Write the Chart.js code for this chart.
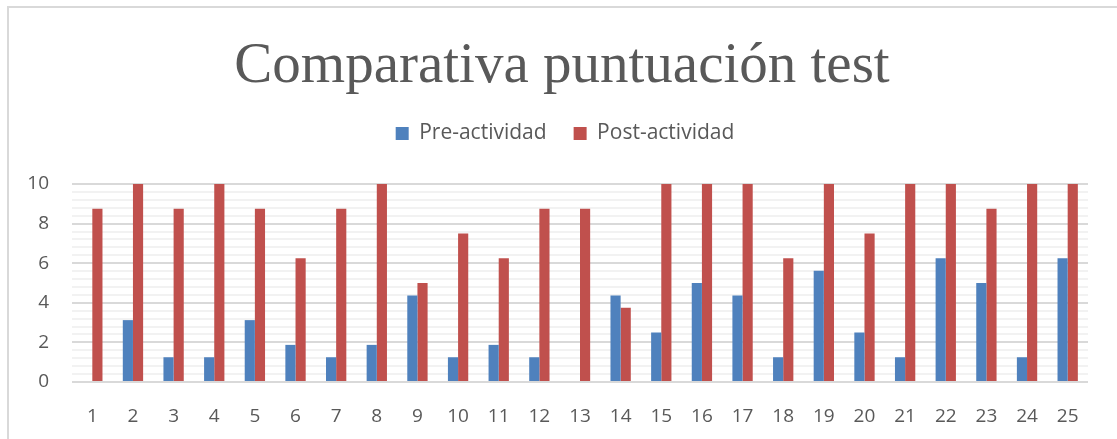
<!DOCTYPE html>
<html>
<head>
<meta charset="utf-8">
<script src="https://cdn.jsdelivr.net/npm/chart.js@4"></script>
<style>
  html, body { margin: 0; padding: 0; background: #fff; }
  #wrap { position: relative; width: 1117px; height: 439px; overflow: hidden; }
  #frame { position: absolute; left: 7px; top: 6px; width: 1200px; height: 500px;
           border-left: 2px solid #D9D9D9; border-top: 2px solid #D9D9D9; pointer-events: none; }
  canvas { position: absolute; left: 0; top: 0; }
</style>
</head>
<body>
<div id="wrap">
  <canvas id="c" width="1117" height="439"></canvas>
  <div id="frame"></div>
</div>
<script>
const categories = ['1','2','3','4','5','6','7','8','9','10','11','12','13','14','15','16','17','18','19','20','21','22','23','24','25'];
const preActividad = [0, 3.125, 1.25, 1.25, 3.125, 1.875, 1.25, 1.875, 4.375, 1.25, 1.875, 1.25, 0, 4.375, 2.5, 5, 4.375, 1.25, 5.625, 2.5, 1.25, 6.25, 5, 1.25, 6.25];
const postActividad = [8.75, 10, 8.75, 10, 8.75, 6.25, 8.75, 10, 5, 7.5, 6.25, 8.75, 8.75, 3.75, 10, 10, 10, 6.25, 10, 7.5, 10, 10, 8.75, 10, 10];
const yTickLabels = [0, 2, 4, 6, 8, 10];
const seriesNames = ['Pre-actividad', 'Post-actividad'];
const titleText = 'Comparativa puntuación test';

function isMajor(v) {
  return yTickLabels.some(t => Math.abs(t - v) < 1e-6);
}

// The original chart frame is wider than the visible crop, so title and legend
// are centred a little to the right of the plot area.
const shiftHeader = {
  id: 'shiftHeader',
  afterLayout(chart) {
    if (chart.titleBlock) { chart.titleBlock.left += 18; chart.titleBlock.right += 18; }
    if (chart.legend) { chart.legend.left += 21; chart.legend.right += 21; }
  }
};

new Chart(document.getElementById('c'), {
  type: 'bar',
  data: {
    labels: categories,
    datasets: [
      { label: seriesNames[0], data: preActividad, backgroundColor: '#4F81BD', borderWidth: 0 },
      { label: seriesNames[1], data: postActividad, backgroundColor: '#C0504D', borderWidth: 0 }
    ]
  },
  plugins: [shiftHeader],
  options: {
    responsive: false,
    animation: false,
    events: [],
    datasets: { bar: { categoryPercentage: 0.5, barPercentage: 1.0 } },
    layout: { padding: { left: 0, right: 29, top: 0, bottom: 11 } },
    plugins: {
      title: {
        display: true,
        text: titleText,
        color: '#595959',
        font: { family: 'Liberation Serif', size: 57, weight: 'normal', lineHeight: 1.0 },
        padding: { top: 39, bottom: 0 }
      },
      subtitle: {
        display: true,
        text: ' ',
        weight: 500,
        font: { size: 10 },
        padding: { top: 0, bottom: 18 }
      },
      legend: {
        display: true,
        labels: {
          color: '#595959',
          font: { family: 'Open Sans', size: 21 },
          boxWidth: 13,
          boxHeight: 13,
          padding: 27
        }
      },
      tooltip: { enabled: false }
    },
    scales: {
      x: {
        grid: { display: false, drawTicks: false },
        border: { display: false },
        ticks: {
          color: '#595959',
          font: { family: 'Open Sans', size: 19 },
          padding: 23,
          maxRotation: 0,
          autoSkip: false
        },
        afterFit: s => { s.height = 46; }
      },
      y: {
        min: 0,
        max: 10,
        grid: {
          drawTicks: false,
          color: ctx => isMajor(ctx.tick.value) ? '#D9D9D9' : '#F2F2F2',
          lineWidth: 2
        },
        border: { display: false },
        ticks: {
          stepSize: 0.4,
          autoSkip: false,
          color: '#595959',
          font: { family: 'Open Sans', size: 19 },
          padding: 23,
          callback: v => isMajor(v) ? String(Math.round(v)) : ''
        },
        afterFit: s => { s.width = 72; }
      }
    }
  }
});
</script>
</body>
</html>
